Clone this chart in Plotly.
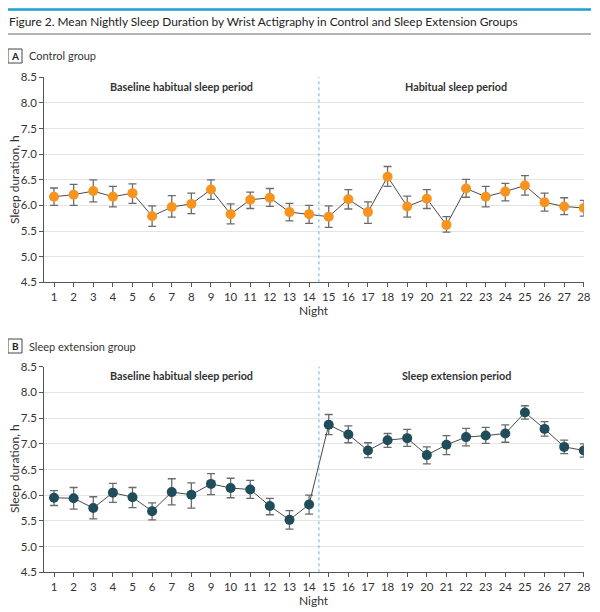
import plotly.graph_objects as go

nights = list(range(1, 29))
tick_labels = [str(n) for n in nights]

control_mean = [6.17, 6.21, 6.28, 6.17, 6.24, 5.79, 5.97, 6.03, 6.31, 5.83, 6.11, 6.15, 5.87, 5.83,
                5.78, 6.12, 5.87, 6.56, 5.98, 6.13, 5.62, 6.33, 6.17, 6.27, 6.39, 6.06, 5.98, 5.95]
control_hi = [6.34, 6.41, 6.50, 6.37, 6.42, 5.99, 6.19, 6.24, 6.50, 6.03, 6.26, 6.33, 6.04, 6.00,
              5.99, 6.31, 6.07, 6.76, 6.18, 6.31, 5.78, 6.51, 6.37, 6.43, 6.58, 6.24, 6.15, 6.10]
control_lo = [6.00, 6.00, 6.07, 5.97, 6.04, 5.59, 5.77, 5.84, 6.12, 5.64, 5.94, 5.98, 5.70, 5.65,
              5.57, 5.93, 5.65, 6.37, 5.77, 5.94, 5.48, 6.16, 5.97, 6.09, 6.20, 5.89, 5.82, 5.79]

ext_mean = [5.95, 5.94, 5.75, 6.05, 5.96, 5.69, 6.06, 6.01, 6.22, 6.14, 6.11, 5.79, 5.52, 5.82,
            7.37, 7.18, 6.87, 7.07, 7.11, 6.78, 6.98, 7.13, 7.16, 7.20, 7.61, 7.29, 6.94, 6.87]
ext_hi = [6.09, 6.15, 5.97, 6.23, 6.15, 5.85, 6.32, 6.24, 6.42, 6.33, 6.29, 5.94, 5.70, 6.00,
          7.57, 7.35, 7.02, 7.20, 7.28, 6.94, 7.16, 7.30, 7.32, 7.37, 7.74, 7.43, 7.07, 7.00]
ext_lo = [5.80, 5.73, 5.54, 5.86, 5.76, 5.52, 5.81, 5.75, 6.01, 5.95, 5.94, 5.62, 5.34, 5.63,
          7.18, 7.02, 6.73, 6.93, 6.95, 6.61, 6.79, 6.96, 7.01, 7.03, 7.48, 7.15, 6.81, 6.74]

y_ticks = [4.5, 5.0, 5.5, 6.0, 6.5, 7.0, 7.5, 8.0, 8.5]
y_tick_text = [f"{v:.1f}" for v in y_ticks]

FONT = "Lato, Roboto, sans-serif"
ORANGE = "#f7941d"
NAVY = "#1f4d5a"
TXT = "#333333"

# the page body has an 8px margin: the figure is sized and placed so that
# page pixel p corresponds to figure pixel p - 8
OFF = 8
W, H = 600 - OFF, 612 - OFF


def px(p):
    return (p - OFF) / W


def py(p):
    return 1 - (p - OFF) / H


fig = go.Figure()


def add_series(mean, hi, lo, color, xa, ya):
    fig.add_trace(go.Scatter(
        x=nights, y=mean, mode="lines+markers",
        line=dict(color="#4a4a4a", width=1),
        marker=dict(color=color, size=10, line=dict(width=0)),
        error_y=dict(type="data", symmetric=False,
                     array=[h - m for h, m in zip(hi, mean)],
                     arrayminus=[m - l for m, l in zip(mean, lo)],
                     color="#6b6b6b", thickness=1.3, width=4),
        xaxis=xa, yaxis=ya, showlegend=False, hoverinfo="skip"))


add_series(control_mean, control_hi, control_lo, ORANGE, "x", "y")
add_series(ext_mean, ext_hi, ext_lo, NAVY, "x2", "y2")

xdom = [px(44.2), px(583.8)]
axis_x = dict(range=[0.5, 28], tickmode="array", tickvals=nights, ticktext=tick_labels,
              showgrid=False, showline=True, linecolor="#555555", linewidth=1,
              ticks="outside", ticklen=4, tickcolor="#555555",
              tickfont=dict(family=FONT, size=11.5, color=TXT),
              zeroline=False, domain=xdom, fixedrange=True, automargin=False)
axis_y = dict(range=[4.5, 8.5], tickmode="array", tickvals=y_ticks, ticktext=y_tick_text,
              showgrid=True, gridcolor="#e4e4e4", gridwidth=1,
              showline=True, linecolor="#555555", linewidth=1,
              ticks="outside", ticklen=4, tickcolor="#555555",
              tickfont=dict(family=FONT, size=11.5, color=TXT),
              zeroline=False, fixedrange=True, automargin=False)

fig.update_layout(
    template="none",
    width=W, height=H,
    margin=dict(l=0, r=0, t=0, b=0, autoexpand=False),
    paper_bgcolor="white", plot_bgcolor="white",
    xaxis=dict(axis_x, anchor="y"),
    yaxis=dict(axis_y, domain=[py(282.3), py(77.3)], anchor="x"),
    xaxis2=dict(axis_x, anchor="y2"),
    yaxis2=dict(axis_y, domain=[py(572.3), py(366.7)], anchor="x2"),
)

# axis titles
for night_y, mid_y in [(310, 180), (600, 469)]:
    fig.add_annotation(text="Night", x=px(314), y=py(night_y), xref="paper", yref="paper",
                       xanchor="center", yanchor="middle", showarrow=False,
                       font=dict(family=FONT, size=12, color=TXT))
    fig.add_annotation(text="Sleep duration, h", x=px(14), y=py(mid_y), xref="paper", yref="paper",
                       xanchor="center", yanchor="middle", textangle=-90, showarrow=False,
                       font=dict(family=FONT, size=12, color=TXT))

# divider lines between periods
for xa, ya in [("x", "y domain"), ("x2", "y2 domain")]:
    fig.add_shape(type="line", xref=xa, yref=ya, x0=14.5, x1=14.5, y0=0, y1=1,
                  line=dict(color="#5bb8e0", width=1, dash="dot"))

# period labels
period_labels = [("Baseline habitual sleep period", 7.5, "x", "y"),
                 ("Habitual sleep period", 21.5, "x", "y"),
                 ("Baseline habitual sleep period", 7.5, "x2", "y2"),
                 ("Sleep extension period", 21.5, "x2", "y2")]
for text, xv, xa, ya in period_labels:
    fig.add_annotation(text=f"<b>{text}</b>", x=xv, y=8.32, xref=xa, yref=ya,
                       xanchor="center", yanchor="middle",
                       showarrow=False, font=dict(family=FONT, size=10.8, color=TXT))

# header lines
fig.add_shape(type="line", xref="paper", yref="paper", x0=px(7), x1=px(591),
              y0=py(9.5), y1=py(9.5), line=dict(color="#1e9fd0", width=2.5))
fig.add_shape(type="line", xref="paper", yref="paper", x0=px(7), x1=px(591),
              y0=py(34), y1=py(34), line=dict(color="#9a9a9a", width=1.5))

fig.add_annotation(text="Figure 2. Mean Nightly Sleep Duration by Wrist Actigraphy in Control and Sleep Extension Groups",
                   x=px(7), y=py(21.5), xref="paper", yref="paper", xanchor="left", yanchor="middle",
                   showarrow=False, font=dict(family=FONT, size=11.9, color="#222222"))

# panel labels
for letter, label, ypx in [("A", "Control group", 56), ("B", "Sleep extension group", 346)]:
    fig.add_shape(type="rect", xref="paper", yref="paper", x0=px(8), x1=px(22),
                  y0=py(ypx + 7), y1=py(ypx - 7),
                  line=dict(color="#444444", width=1))
    fig.add_annotation(text=f"<b>{letter}</b>", x=px(15), y=py(ypx), xref="paper", yref="paper",
                       xanchor="center", yanchor="middle",
                       showarrow=False, font=dict(family=FONT, size=10, color="#222222"))
    fig.add_annotation(text=label, x=px(27), y=py(ypx), xref="paper", yref="paper",
                       xanchor="left", yanchor="middle",
                       showarrow=False, font=dict(family=FONT, size=11, color=TXT))

fig.write_html("out.html")
